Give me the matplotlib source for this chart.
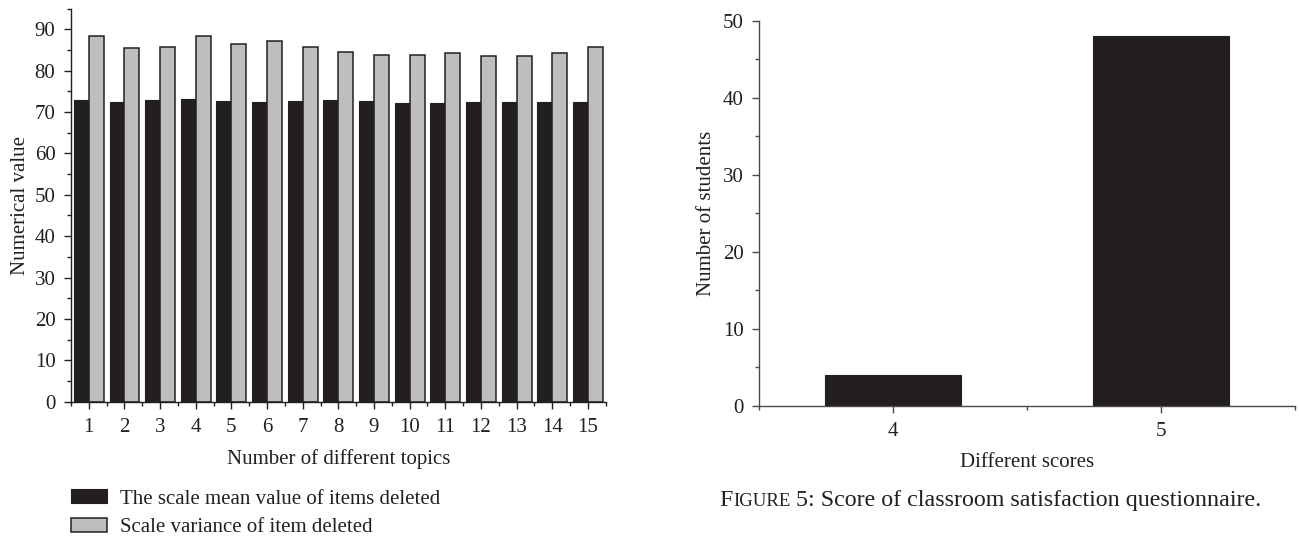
import matplotlib
matplotlib.use("Agg")
import matplotlib.pyplot as plt
import numpy as np
from matplotlib.patches import Patch
from matplotlib.ticker import MultipleLocator

plt.rcParams['font.family'] = ['Liberation Serif', 'DejaVu Serif']

# ---- data ----
topics = list(range(1, 16))
mean_deleted = [72.8, 72.4, 72.9, 73.1, 72.7, 72.4, 72.7, 73.0, 72.6, 72.2, 72.3, 72.5, 72.4, 72.5, 72.4]
variance_deleted = [88.3, 85.4, 85.6, 88.4, 86.4, 87.2, 85.6, 84.4, 83.7, 83.7, 84.3, 83.6, 83.5, 84.2, 85.7]
series_labels = ["The scale mean value of items deleted", "Scale variance of item deleted"]

scores = [4, 5]
students = [4, 48]

caption_sc_big = "F"
caption_sc_small = "IGURE"
caption_rest = " 5: Score of classroom satisfaction questionnaire."

DARK = "#231f20"
AXGRAY = "#4a4a4a"
GRAY = "#bebebe"
FS = 15

fig = plt.figure(figsize=(12.99, 5.36), dpi=100)

# ---- left chart ----
ax1 = fig.add_axes([0.05466, 0.25056, 0.41163, 0.7334])
x = np.array(topics, dtype=float)
w = 0.42
ax1.bar(x - w / 2, mean_deleted, width=w, color=DARK, edgecolor=DARK, linewidth=0.8)
ax1.bar(x + w / 2, variance_deleted, width=w, color=GRAY, edgecolor=DARK, linewidth=1.1)
ax1.set_xlim(0.5, 15.5)
ax1.set_ylim(0, 95)
ax1.set_xticks(topics)
ax1.set_xticklabels([str(t) for t in topics])
ax1.xaxis.set_minor_locator(MultipleLocator(1, offset=0.5))
ax1.set_yticks(range(0, 91, 10))
ax1.yaxis.set_minor_locator(MultipleLocator(5))
ax1.set_xlabel("Number of different topics", fontsize=FS, labelpad=8.5)
ax1.set_ylabel("Numerical value", fontsize=FS, labelpad=3.5)

# ---- right chart ----
ax2 = fig.add_axes([0.5843, 0.2431, 0.4125, 0.7183])
ax2.bar(scores, students, width=0.51, color=DARK, edgecolor=DARK, linewidth=0.8)
ax2.set_xlim(3.5, 5.5)
ax2.set_ylim(0, 50)
ax2.set_xticks(scores)
ax2.set_xticklabels([str(s) for s in scores])
ax2.xaxis.set_minor_locator(MultipleLocator(1, offset=0.5))
ax2.set_yticks(range(0, 51, 10))
ax2.yaxis.set_minor_locator(MultipleLocator(5))
ax2.set_xlabel("Different scores", fontsize=FS, labelpad=8.5)
ax2.set_ylabel("Number of students", fontsize=FS, labelpad=5)

for ax, col in ((ax1, DARK), (ax2, AXGRAY)):
    for s in ("top", "right"):
        ax.spines[s].set_visible(False)
    for s in ("left", "bottom"):
        ax.spines[s].set_color(col)
        ax.spines[s].set_linewidth(1.0)
    ax.tick_params(which="major", direction="out", length=5.2, width=1.0, color=col,
                   labelsize=FS, labelcolor=DARK)
    ax.tick_params(axis="y", which="major", pad=6)
    ax.tick_params(axis="x", which="major", pad=6.5)
    ax.tick_params(which="minor", direction="out", length=3, width=1.0, color=col)
    ax.xaxis.label.set_color(DARK)
    ax.yaxis.label.set_color(DARK)

# ---- legend ----
handles = [Patch(facecolor=DARK, edgecolor=DARK, linewidth=0.8),
           Patch(facecolor=GRAY, edgecolor=DARK, linewidth=1.1)]
fig.legend(handles, series_labels, loc="upper left", bbox_to_anchor=(0.0547, 0.0868),
           frameon=False, fontsize=FS, handlelength=1.73, handleheight=0.65,
           handletextpad=0.63, labelspacing=0.44, borderpad=0, borderaxespad=0,
           labelcolor=DARK)

# ---- caption with small caps ----
fig.canvas.draw()
r = fig.canvas.get_renderer()
cy = 1 - 506 / 536
t1 = fig.text(719.5 / 1299, cy, caption_sc_big, fontsize=17.3, color=DARK, va="baseline")
fig.canvas.draw()
bb = t1.get_window_extent(r)
t2 = fig.text(bb.x1 / 1299, cy, caption_sc_small, fontsize=13.5, color=DARK, va="baseline")
fig.canvas.draw()
bb = t2.get_window_extent(r)
fig.text(bb.x1 / 1299, cy, caption_rest, fontsize=17.3, color=DARK, va="baseline")

fig.savefig("out.png", dpi=100)
